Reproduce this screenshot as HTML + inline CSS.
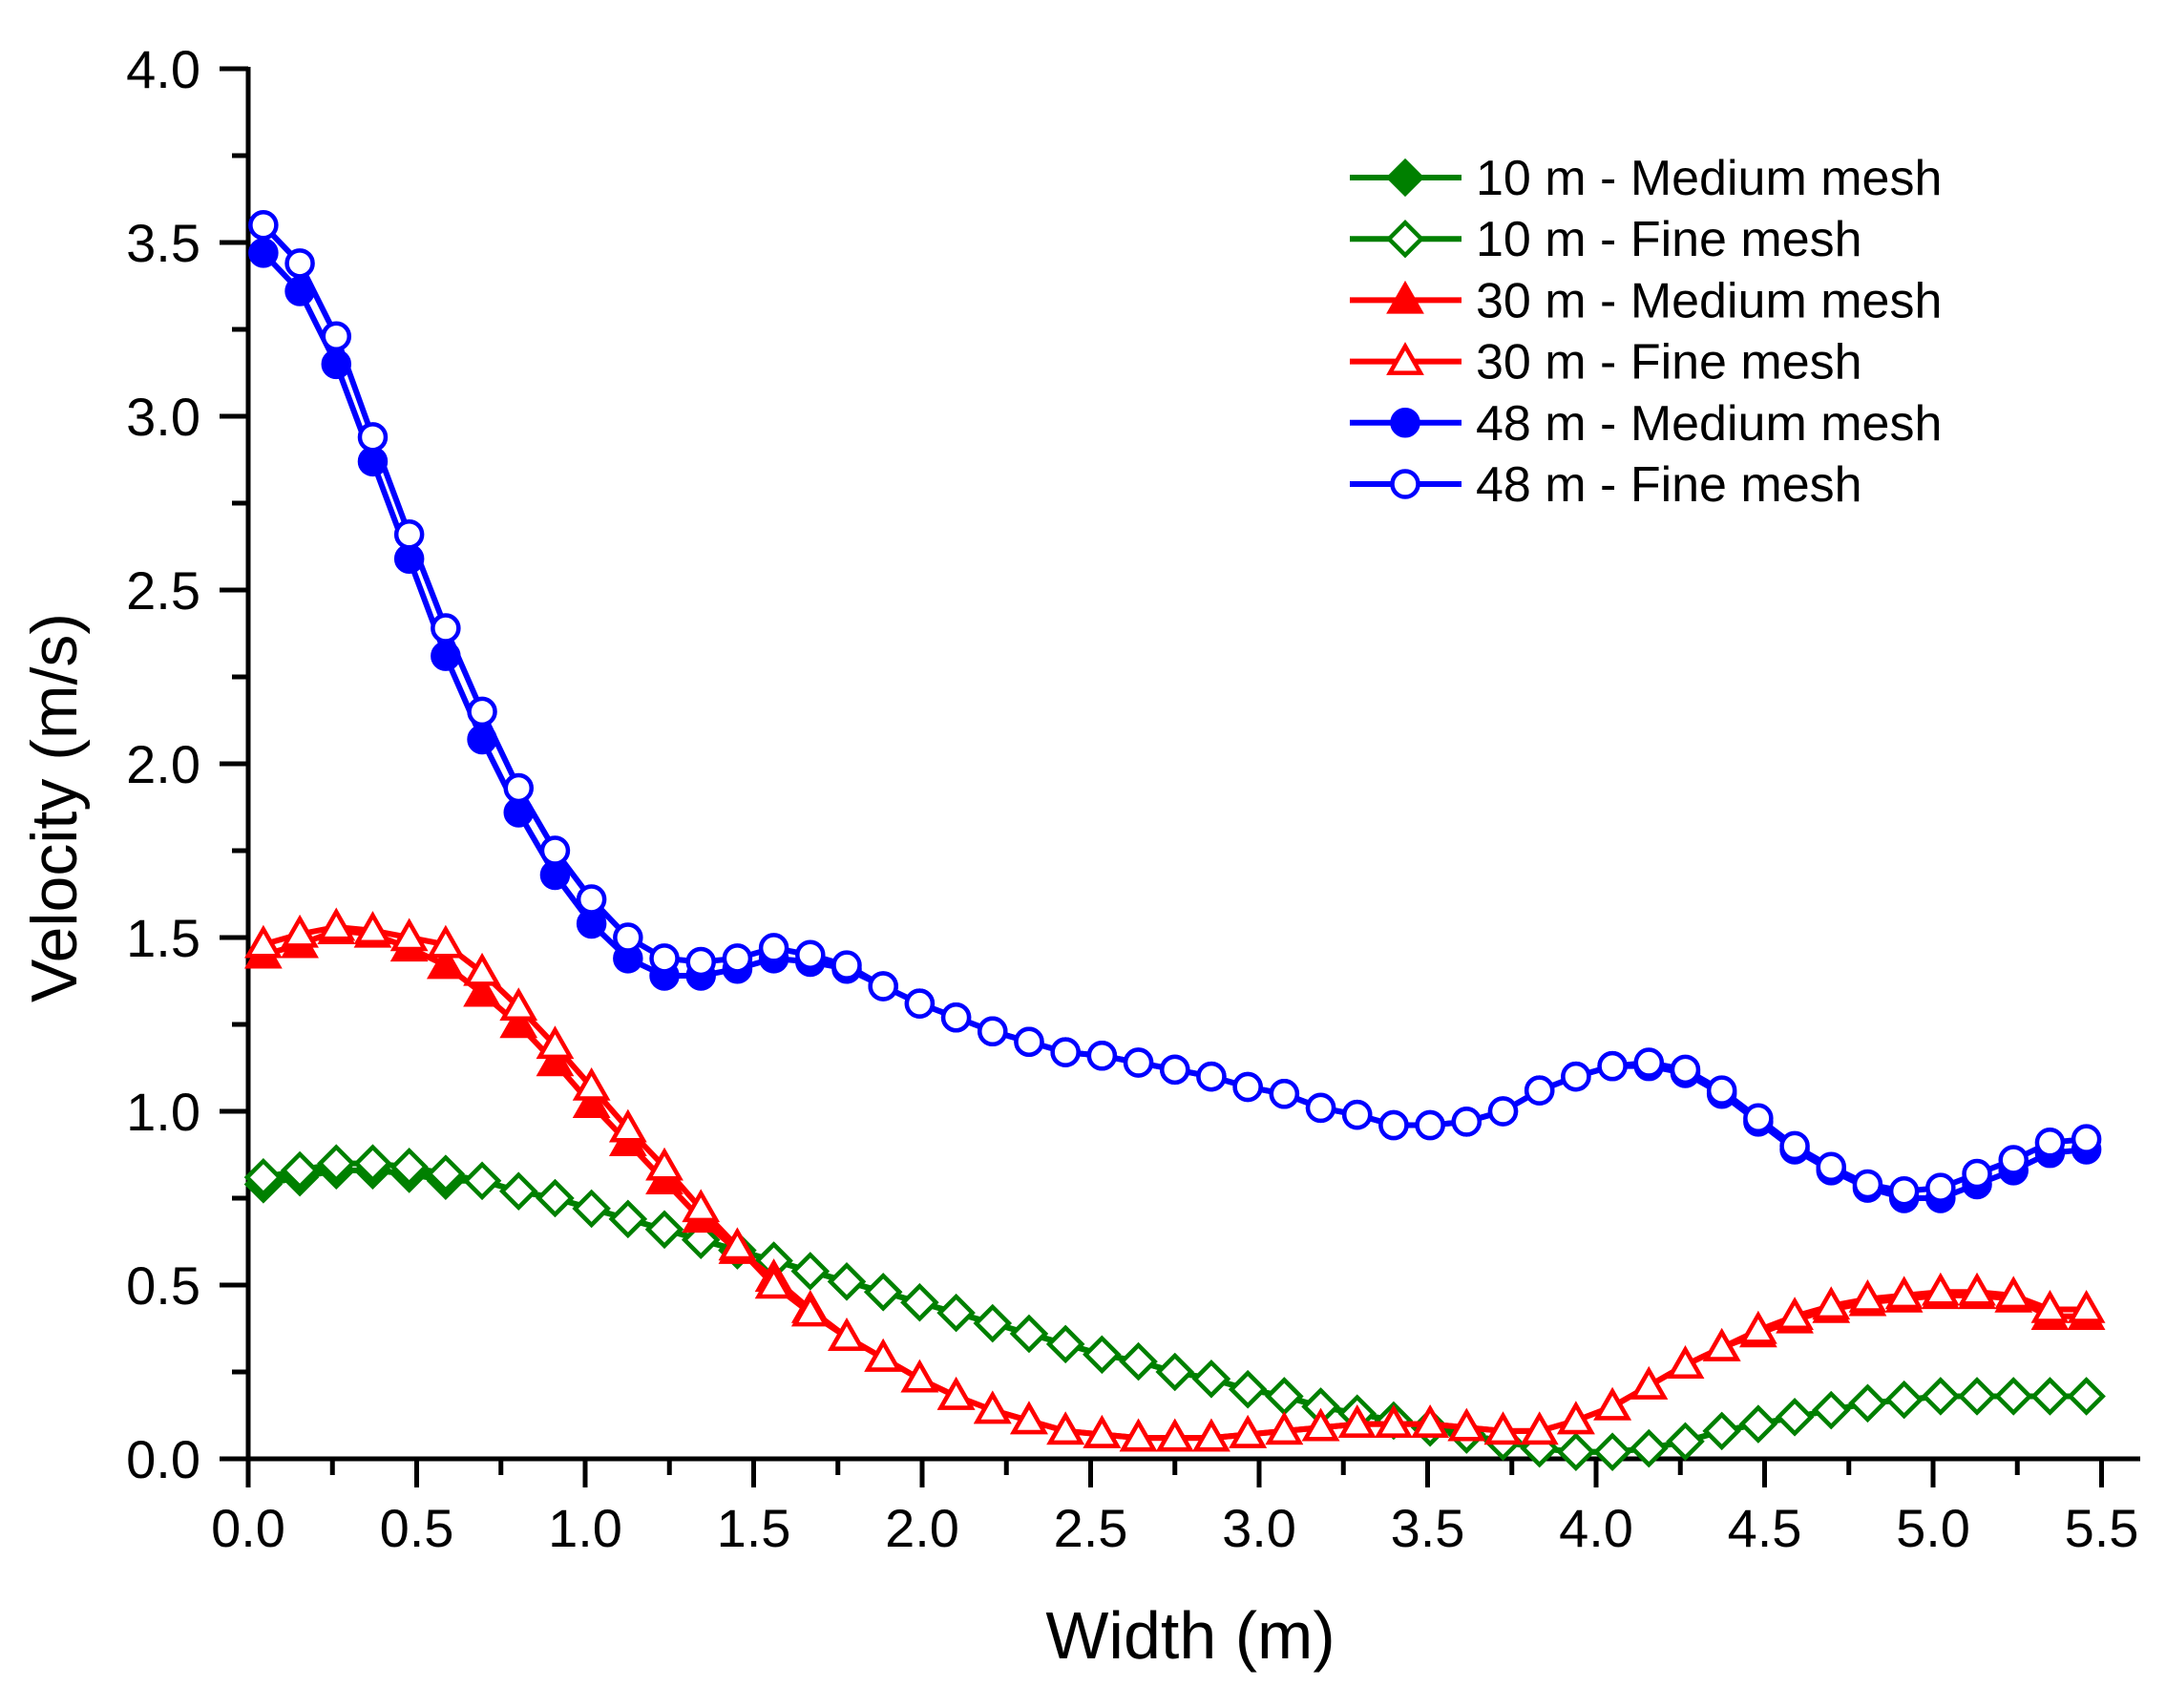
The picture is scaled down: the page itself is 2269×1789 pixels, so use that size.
<!DOCTYPE html>
<html><head><meta charset="utf-8"><style>
html,body{margin:0;padding:0;background:#fff;}
svg text{font-family:"Liberation Sans",Arial,sans-serif;}
</style></head><body>
<svg id="c" width="2269" height="1784" xmlns="http://www.w3.org/2000/svg">
<rect width="2269" height="1784" fill="#fff"/>
<g id="axes" stroke="#000" stroke-width="5" fill="none"></g>
<g id="labels" font-size="56" fill="#000"></g>
<g id="series"></g>
<g id="legend"></g>
<text x="1247" y="1737" font-size="70" text-anchor="middle">Width (m)</text>
<text transform="translate(80,846) rotate(-90)" font-size="68" text-anchor="middle">Velocity (m/s)</text>
</svg>
<script>
const NS="http://www.w3.org/2000/svg";
const X0=260,XS=353,Y0=1528,YS=364;
const px=v=>X0+v*XS, py=v=>Y0-v*YS;
function el(p,t,a,txt){const e=document.createElementNS(NS,t);for(const k in a)e.setAttribute(k,a[k]);if(txt!==undefined)e.textContent=txt;p.appendChild(e);return e;}
const ax=document.getElementById('axes'),lb=document.getElementById('labels');
el(ax,'path',{d:`M${X0} 70 V${Y0} H2242`});
for(let i=0;i<=11;i++){const x=px(i*0.5);el(ax,'line',{x1:x,y1:Y0,x2:x,y2:Y0+30});
 el(lb,'text',{x:x,y:1620,'text-anchor':'middle'},(i*0.5).toFixed(1));
 if(i<11){const xm=px(i*0.5+0.25);el(ax,'line',{x1:xm,y1:Y0,x2:xm,y2:Y0+17});}}
for(let i=0;i<=8;i++){const y=py(i*0.5);el(ax,'line',{x1:X0,y1:y,x2:X0-30,y2:y});
 el(lb,'text',{x:210,y:y+20,'text-anchor':'end'},(i*0.5).toFixed(1));
 if(i<8){const ym=py(i*0.5+0.25);el(ax,'line',{x1:X0,y1:ym,x2:X0-17,y2:ym});}}
const xs=i=>0.045+i*0.1082;
const bF=[3.55,3.44,3.23,2.94,2.66,2.39,2.15,1.93,1.75,1.61,1.50,1.44,1.43,1.44,1.47,1.45,1.42,1.36,1.31,1.27,1.23,1.20,1.17,1.16,1.14,1.12,1.10,1.07,1.05,1.01,0.99,0.96,0.96,0.97,1.00,1.06,1.10,1.13,1.14,1.12,1.06,0.98,0.90,0.84,0.79,0.77,0.78,0.82,0.86,0.91,0.92];
const bM=[3.47,3.36,3.15,2.87,2.59,2.31,2.07,1.86,1.68,1.54,1.44,1.39,1.39,1.41,1.44,1.43,1.41,1.36,1.31,1.27,1.23,1.20,1.17,1.16,1.14,1.12,1.10,1.07,1.05,1.01,0.99,0.96,0.96,0.97,1.00,1.06,1.10,1.13,1.13,1.11,1.05,0.97,0.89,0.83,0.78,0.75,0.75,0.79,0.83,0.88,0.89];
const rF=[1.48,1.51,1.53,1.52,1.50,1.48,1.40,1.30,1.19,1.07,0.95,0.84,0.72,0.61,0.50,0.42,0.35,0.29,0.23,0.18,0.14,0.11,0.08,0.07,0.06,0.06,0.06,0.07,0.08,0.09,0.10,0.10,0.10,0.09,0.08,0.08,0.11,0.15,0.21,0.27,0.32,0.37,0.41,0.44,0.46,0.47,0.48,0.48,0.47,0.43,0.43];
const rM=[1.45,1.48,1.52,1.51,1.47,1.42,1.34,1.25,1.14,1.02,0.91,0.80,0.69,0.60,0.52,0.43,0.35,0.29,0.23,0.18,0.14,0.11,0.08,0.07,0.06,0.06,0.06,0.07,0.08,0.09,0.10,0.10,0.10,0.09,0.08,0.08,0.11,0.15,0.21,0.27,0.32,0.36,0.40,0.43,0.45,0.46,0.47,0.47,0.46,0.41,0.41];
const gF=[0.81,0.83,0.85,0.85,0.84,0.82,0.80,0.77,0.75,0.72,0.69,0.66,0.63,0.60,0.57,0.54,0.51,0.48,0.45,0.42,0.39,0.36,0.33,0.30,0.28,0.25,0.23,0.20,0.18,0.15,0.13,0.11,0.09,0.07,0.05,0.03,0.02,0.02,0.03,0.05,0.08,0.10,0.12,0.14,0.16,0.17,0.18,0.18,0.18,0.18,0.18];
const gM=gF.map((v,i)=>i<6?v-0.02:v);
const S=document.getElementById('series');
function marker(g,type,fill,col,x,y){
 const r=13.5;
 if(type==='c')el(g,'circle',{cx:x,cy:y,r:r,fill:fill?col:'#fff',stroke:col,'stroke-width':4.5});
 else if(type==='t')el(g,'path',{d:`M${x} ${y-16} L${x+16} ${y+12} L${x-16} ${y+12}Z`,fill:fill?col:'#fff',stroke:col,'stroke-width':4.5});
 else el(g,'path',{d:`M${x} ${y-17} L${x+17} ${y} L${x} ${y+17} L${x-17} ${y}Z`,fill:fill?col:'#fff',stroke:col,'stroke-width':4.5});
}
function series(d,col,type,fill){
 const g=el(S,'g',{});
 el(g,'polyline',{points:d.map((v,i)=>px(xs(i))+','+py(v)).join(' '),fill:'none',stroke:col,'stroke-width':6});
 d.forEach((v,i)=>marker(g,type,fill,col,px(xs(i)),py(v)));
}
const G='#008000',R='#ff0000',B='#0000ff';
series(gM,G,'d',true);series(gF,G,'d',false);
series(rM,R,'t',true);series(rF,R,'t',false);
series(bM,B,'c',true);series(bF,B,'c',false);
const L=document.getElementById('legend');
const items=[['10 m - Medium mesh',G,'d',true],['10 m - Fine mesh',G,'d',false],['30 m - Medium mesh',R,'t',true],['30 m - Fine mesh',R,'t',false],['48 m - Medium mesh',B,'c',true],['48 m - Fine mesh',B,'c',false]];
items.forEach((it,k)=>{const y=186+k*64.2;
 el(L,'line',{x1:1414,y1:y,x2:1531,y2:y,stroke:it[1],'stroke-width':6});
 marker(L,it[2],it[3],it[1],1472,y);
 el(L,'text',{x:1546,y:y+18,'font-size':52,fill:'#000'},it[0]);});
</script>
</body></html>
